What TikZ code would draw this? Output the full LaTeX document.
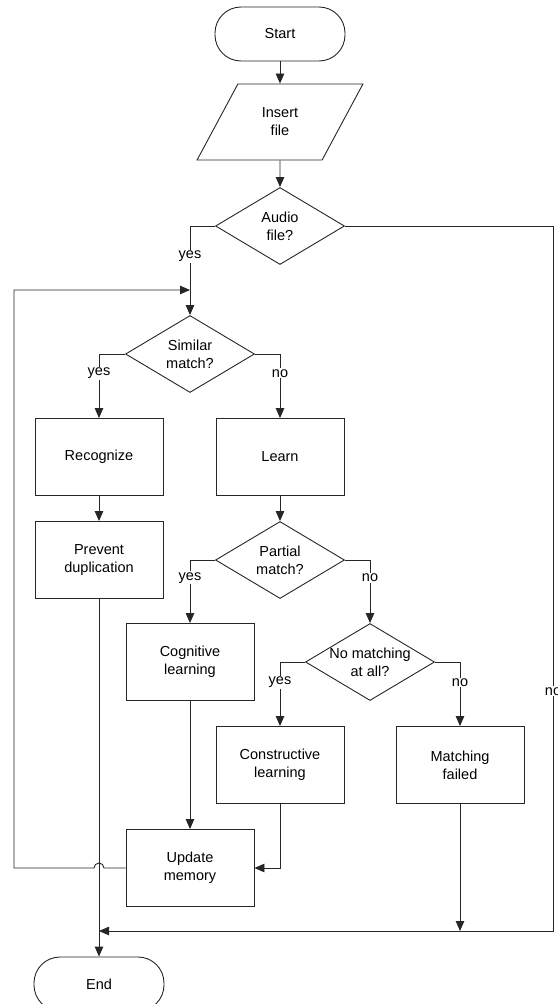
\documentclass[tikz,border=0pt]{standalone}
\usepackage{fontspec}
\setmainfont{Liberation Sans}
\usetikzlibrary{arrows.meta,shapes.geometric,calc}
\tikzset{
  base/.style={draw=black!85, line width=0.9pt, align=center,
               font=\fontsize{14.5}{18}\selectfont, inner sep=0pt},
  term/.style={base, rounded corners=26pt, minimum width=130pt, minimum height=54pt},
  io/.style={base, trapezium, trapezium left angle=58, trapezium right angle=122,
             trapezium stretches=true, minimum width=166pt, minimum height=76pt},
  proc/.style={base, rectangle, minimum width=128pt, minimum height=77pt},
  dec/.style={base, diamond, minimum width=129pt, minimum height=77pt},
  dtxt/.style={align=center, font=\fontsize{14.5}{18}\selectfont},
  flow/.style={draw=black!85, line width=0.9pt, -{Triangle[length=10pt,width=8.5pt]}},
  lbl/.style={font=\fontsize{14.5}{18}\selectfont, fill=white, inner sep=1pt},
}

\begin{document}
\begin{tikzpicture}[x=1pt, y=-1pt]
  \useasboundingbox (0,0) rectangle (557,1004);
  \node[term] (start) at (280,34) {Start};
  \node[io] (ins) at (280,122) {Insert\\file};
  \node[dec, label={[dtxt]center:Audio\\file?}] (audio) at (280,226) {};
  \node[dec, label={[dtxt]center:Similar\\match?}] (sim) at (190,354) {};
  \node[proc] (rec) at (99,457) {Recognize};
  \node[proc] (prev) at (99,560) {Prevent\\duplication};
  \node[proc] (learn) at (280,457) {Learn};
  \node[dec, label={[dtxt]center:Partial\\match?}] (part) at (280,560) {};
  \node[proc] (cog) at (190,662) {Cognitive\\learning};
  \node[dec, label={[dtxt]center:No matching\\at all?}] (nom) at (370,662) {};
  \node[proc] (cons) at (280,765) {Constructive\\learning};
  \node[proc] (fail) at (460,765) {Matching\\failed};
  \node[proc] (upd) at (190,868) {Update\\memory};
  \node[term] (end) at (99,984) {End};

  % helper points for the outer loops
  \coordinate (back) at (14,290);
  \coordinate (rgt) at (553,931);
  \coordinate (merge) at (prev.south |- rgt);

  \draw[flow] (start) -- (ins);
  \draw[flow] (ins) -- (audio);
  \draw[flow] (audio.west) -| node[lbl, pos=0.67] {yes} (sim.north);
  \draw[flow] (sim.west) -| node[lbl, pos=0.65] {yes} (rec.north);
  \draw[flow] (sim.east) -| node[lbl, pos=0.65] {no} (learn.north);
  \draw[flow] (rec) -- (prev);
  \draw[flow] (learn) -- (part);
  \draw[flow] (part.west) -| node[lbl, pos=0.64] {yes} (cog.north);
  \draw[flow] (part.east) -| node[lbl, pos=0.64] {no} (nom.north);
  \draw[flow] (nom.west) -| node[lbl, pos=0.66] {yes} (cons.north);
  \draw[flow] (nom.east) -| node[lbl, pos=0.66] {no} (fail.north);
  \draw[flow] (cog) -- (upd);
  \draw[flow] (cons.south) |- (upd.east);
  \draw[flow] (fail.south) -- (fail.south |- rgt);
  \draw[flow] (audio.east) -| node[lbl, pos=0.83] {no} (rgt) -- (merge);
  \draw[flow] (prev.south) -- (end.north);
  \draw[flow] (upd.west) -- ([xshift=5pt]prev.south |- upd.west)
    arc[start angle=0, end angle=180, radius=5pt] -- (back |- upd.west) -- (back) -- (sim.north |- back);
\end{tikzpicture}
\end{document}
